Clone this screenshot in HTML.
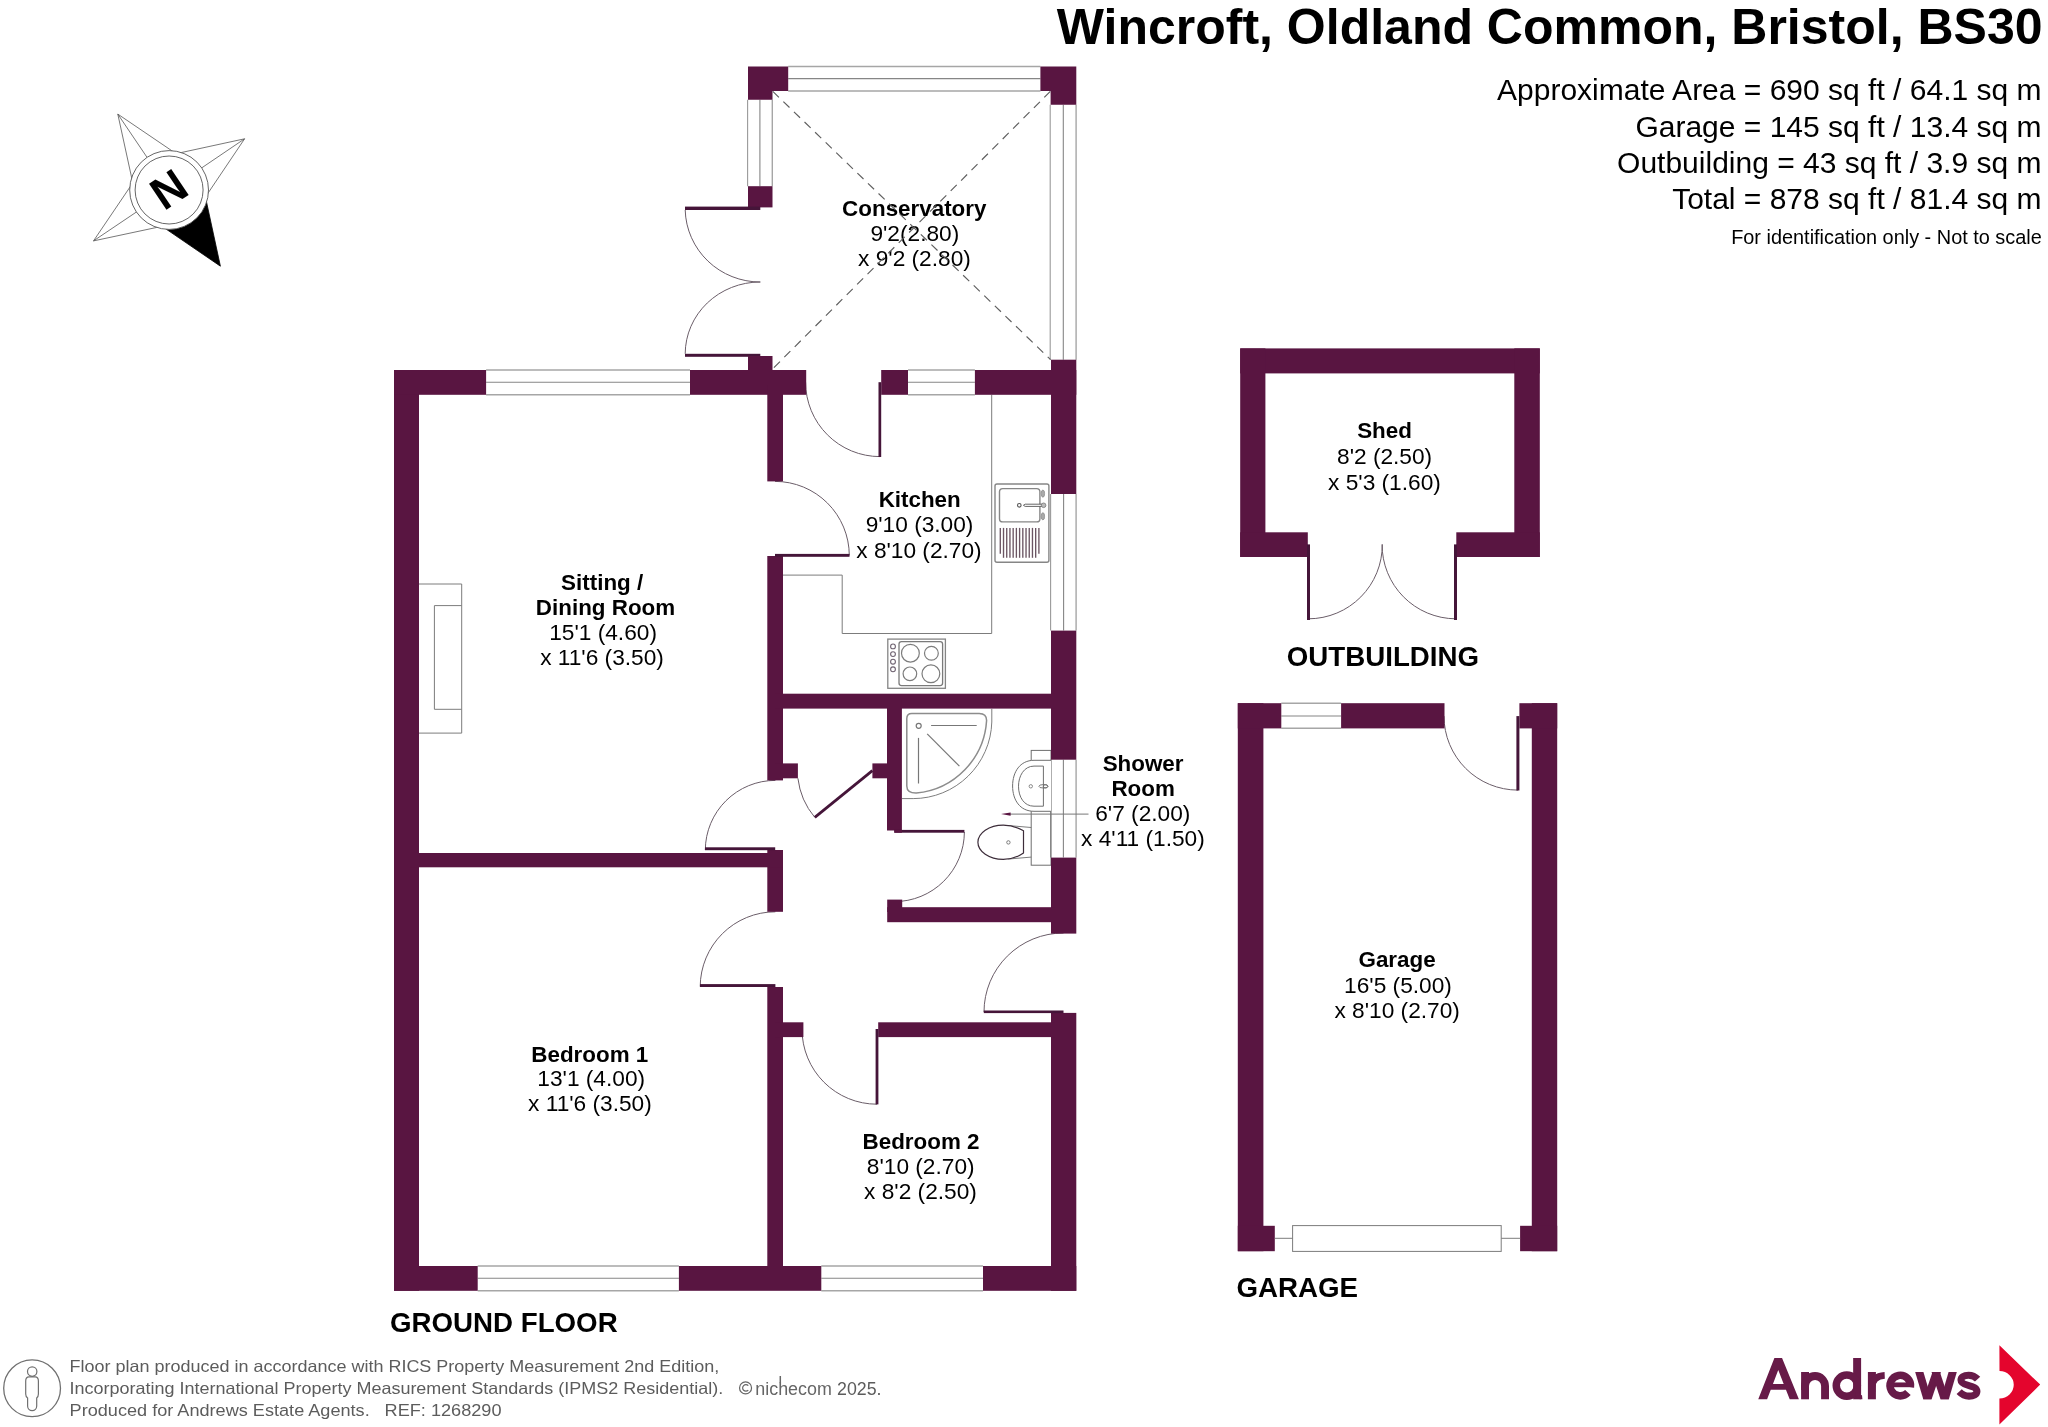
<!DOCTYPE html>
<html><head><meta charset="utf-8"><title>Floor plan</title>
<style>
html,body{margin:0;padding:0;background:#fff;}
body{width:2048px;height:1427px;overflow:hidden;position:relative;font-family:"Liberation Sans",sans-serif;}
svg{display:block;font-family:"Liberation Sans",sans-serif;}
</style></head><body>
<div style="position:absolute;left:0;top:0;width:2048px;height:1427px;will-change:transform;transform:translateZ(0);">
<svg width="2048" height="1427" viewBox="0 0 2048 1427">
<line x1="788.20" y1="66.60" x2="1040.40" y2="66.60" stroke="#a6a6a6" stroke-width="1.5" />
<line x1="788.20" y1="91.00" x2="1040.40" y2="91.00" stroke="#a6a6a6" stroke-width="1.5" />
<line x1="788.20" y1="78.60" x2="1040.40" y2="78.60" stroke="#868686" stroke-width="1.1" />
<line x1="747.60" y1="99.80" x2="747.60" y2="186.20" stroke="#9a9a9a" stroke-width="1.1" />
<line x1="772.30" y1="99.80" x2="772.30" y2="186.20" stroke="#a6a6a6" stroke-width="1.4" />
<line x1="759.90" y1="99.80" x2="759.90" y2="186.20" stroke="#868686" stroke-width="1.1" />
<line x1="1050.20" y1="104.80" x2="1050.20" y2="359.70" stroke="#9a9a9a" stroke-width="1.1" />
<line x1="1076.10" y1="104.80" x2="1076.10" y2="359.70" stroke="#a6a6a6" stroke-width="1.4" />
<line x1="1063.30" y1="104.80" x2="1063.30" y2="359.70" stroke="#868686" stroke-width="1.1" />
<line x1="486.10" y1="370.10" x2="690.00" y2="370.10" stroke="#a6a6a6" stroke-width="1.5" />
<line x1="486.10" y1="394.70" x2="690.00" y2="394.70" stroke="#a6a6a6" stroke-width="1.5" />
<line x1="486.10" y1="382.30" x2="690.00" y2="382.30" stroke="#868686" stroke-width="1.1" />
<line x1="908.00" y1="370.10" x2="974.90" y2="370.10" stroke="#a6a6a6" stroke-width="1.5" />
<line x1="908.00" y1="394.70" x2="974.90" y2="394.70" stroke="#a6a6a6" stroke-width="1.5" />
<line x1="908.00" y1="382.30" x2="974.90" y2="382.30" stroke="#868686" stroke-width="1.1" />
<line x1="1050.60" y1="494.00" x2="1050.60" y2="630.60" stroke="#9a9a9a" stroke-width="1.1" />
<line x1="1076.10" y1="494.00" x2="1076.10" y2="630.60" stroke="#a6a6a6" stroke-width="1.4" />
<line x1="1063.60" y1="494.00" x2="1063.60" y2="630.60" stroke="#868686" stroke-width="1.1" />
<line x1="1050.60" y1="759.70" x2="1050.60" y2="857.60" stroke="#9a9a9a" stroke-width="1.1" />
<line x1="1076.10" y1="759.70" x2="1076.10" y2="857.60" stroke="#a6a6a6" stroke-width="1.4" />
<line x1="1063.40" y1="759.70" x2="1063.40" y2="857.60" stroke="#868686" stroke-width="1.1" />
<line x1="477.70" y1="1266.10" x2="678.90" y2="1266.10" stroke="#a6a6a6" stroke-width="1.5" />
<line x1="477.70" y1="1290.70" x2="678.90" y2="1290.70" stroke="#a6a6a6" stroke-width="1.5" />
<line x1="477.70" y1="1278.30" x2="678.90" y2="1278.30" stroke="#868686" stroke-width="1.1" />
<line x1="821.30" y1="1266.10" x2="983.00" y2="1266.10" stroke="#a6a6a6" stroke-width="1.5" />
<line x1="821.30" y1="1290.70" x2="983.00" y2="1290.70" stroke="#a6a6a6" stroke-width="1.5" />
<line x1="821.30" y1="1278.30" x2="983.00" y2="1278.30" stroke="#868686" stroke-width="1.1" />
<line x1="1281.30" y1="703.30" x2="1341.10" y2="703.30" stroke="#a6a6a6" stroke-width="1.5" />
<line x1="1281.30" y1="728.30" x2="1341.10" y2="728.30" stroke="#a6a6a6" stroke-width="1.5" />
<line x1="1281.30" y1="716.00" x2="1341.10" y2="716.00" stroke="#868686" stroke-width="1.1" />
<path d="M991.7 394.8 V633.5 H842.2 V575.1 H782.5" stroke="#7c7c7c" stroke-width="1" fill="none" />
<rect x="995.0" y="484.0" width="53.9" height="78.2" rx="2" fill="none" stroke="#868686" stroke-width="1.4"/>
<rect x="999.5" y="488.6" width="40.4" height="33.3" rx="3.2" fill="none" stroke="#868686" stroke-width="1.4"/>
<circle cx="1019.3" cy="505.3" r="1.8" fill="#fff" stroke="#555" stroke-width="1.1"/>
<path d="M1023.4 505.3 L1025.2 504.2 H1042.2 V506.4 H1025.2 Z" fill="#fff" stroke="#555" stroke-width="0.9"/>
<circle cx="1043.6" cy="505.3" r="2.3" fill="#bbb" stroke="#777" stroke-width="0.8"/>
<ellipse cx="1042.9" cy="493.6" rx="1.7" ry="3.6" fill="#aaa" stroke="#888" stroke-width="0.7"/>
<ellipse cx="1042.9" cy="516.3" rx="1.7" ry="3.6" fill="#aaa" stroke="#888" stroke-width="0.7"/>
<line x1="1000.30" y1="527.90" x2="1000.30" y2="553.80" stroke="#6b5563" stroke-width="1.35" />
<line x1="1003.52" y1="527.90" x2="1003.52" y2="557.80" stroke="#6b5563" stroke-width="1.35" />
<line x1="1006.73" y1="527.90" x2="1006.73" y2="557.80" stroke="#6b5563" stroke-width="1.35" />
<line x1="1009.95" y1="527.90" x2="1009.95" y2="557.80" stroke="#6b5563" stroke-width="1.35" />
<line x1="1013.17" y1="527.90" x2="1013.17" y2="557.80" stroke="#6b5563" stroke-width="1.35" />
<line x1="1016.38" y1="527.90" x2="1016.38" y2="557.80" stroke="#6b5563" stroke-width="1.35" />
<line x1="1019.60" y1="527.90" x2="1019.60" y2="557.80" stroke="#6b5563" stroke-width="1.35" />
<line x1="1022.82" y1="527.90" x2="1022.82" y2="557.80" stroke="#6b5563" stroke-width="1.35" />
<line x1="1026.03" y1="527.90" x2="1026.03" y2="557.80" stroke="#6b5563" stroke-width="1.35" />
<line x1="1029.25" y1="527.90" x2="1029.25" y2="557.80" stroke="#6b5563" stroke-width="1.35" />
<line x1="1032.47" y1="527.90" x2="1032.47" y2="557.80" stroke="#6b5563" stroke-width="1.35" />
<line x1="1035.68" y1="527.90" x2="1035.68" y2="557.80" stroke="#6b5563" stroke-width="1.35" />
<line x1="1038.90" y1="527.90" x2="1038.90" y2="553.80" stroke="#6b5563" stroke-width="1.35" />
<rect x="887.8" y="639.1" width="57.6" height="49.2" fill="none" stroke="#858585" stroke-width="1.3"/>
<rect x="899" y="641.6" width="43.6" height="44" rx="2.5" fill="none" stroke="#7a7a7a" stroke-width="1.3"/>
<circle cx="893" cy="646.4" r="2.4" fill="none" stroke="#6e6270" stroke-width="1.1"/>
<circle cx="893" cy="654.1" r="2.4" fill="none" stroke="#6e6270" stroke-width="1.1"/>
<circle cx="893" cy="661.7" r="2.4" fill="none" stroke="#6e6270" stroke-width="1.1"/>
<circle cx="893" cy="669.3" r="2.4" fill="none" stroke="#6e6270" stroke-width="1.1"/>
<circle cx="910.4" cy="653.2" r="8.9" fill="none" stroke="#7c7c7c" stroke-width="1.2"/>
<circle cx="931.4" cy="653.2" r="6.9" fill="none" stroke="#7c7c7c" stroke-width="1.2"/>
<circle cx="909.9" cy="673.8" r="6.8" fill="none" stroke="#7c7c7c" stroke-width="1.2"/>
<circle cx="930.9" cy="673.8" r="8.9" fill="none" stroke="#7c7c7c" stroke-width="1.2"/>
<path d="M419 584 H461.7 V733.1 H419" stroke="#7c7c7c" stroke-width="1" fill="none" />
<path d="M461.7 605.6 H434.4 V709.3 H461.7" stroke="#7c7c7c" stroke-width="1" fill="none" />
<path d="M991.8 708.9 V722 A78.8 78.8 0 0 1 913.2 798.6 H902" stroke="#7d7d7d" stroke-width="1" fill="none" />
<path d="M911.8 713.5 H979.2 Q986.6 713.5 986.6 720.5 A77.8 77.8 0 0 1 916.3 793.1 Q906.8 793.3 906.8 786 V718.5 Q906.8 713.5 911.8 713.5 Z" stroke="#8c8c8c" stroke-width="1.5" fill="none" />
<circle cx="918.7" cy="725.8" r="2.5" fill="none" stroke="#777" stroke-width="1.2"/>
<line x1="931.10" y1="725.50" x2="976.70" y2="725.50" stroke="#777" stroke-width="1.2" />
<line x1="918.50" y1="737.90" x2="918.50" y2="783.50" stroke="#777" stroke-width="1.2" />
<line x1="927.20" y1="733.80" x2="959.40" y2="766.20" stroke="#777" stroke-width="1.2" />
<rect x="1031.2" y="750.4" width="19.8" height="114.8" fill="none" stroke="#6e6e6e" stroke-width="1"/>
<path d="M1051 760.3 H1034 C1020 760.3 1012.6 772 1012.6 786 C1012.6 800 1020 811.3 1034 811.3 H1051" stroke="#6e6e6e" stroke-width="1" fill="#fff" />
<path d="M1043.4 766.1 H1034 C1024 766.1 1018.5 776 1018.5 786.2 C1018.5 797 1024 806.2 1034 806.2 H1043.4 Z" stroke="#6e6e6e" stroke-width="1" fill="none" />
<circle cx="1030.8" cy="786.3" r="1.7" fill="none" stroke="#6e6e6e" stroke-width="0.8"/>
<ellipse cx="1043.5" cy="786.3" rx="4.6" ry="1.7" fill="none" stroke="#6e6e6e" stroke-width="0.9"/>
<ellipse cx="1045.5" cy="786.3" rx="2.2" ry="1.7" fill="none" stroke="#6e6e6e" stroke-width="0.9"/>
<path d="M1007.7 825.5 L1031.2 827.5 M1007.7 859.1 L1031.2 857.1" stroke="#6e6e6e" stroke-width="0.9" fill="none" />
<path d="M1003.3 825.2 C1011 825.2 1018 827.6 1023.5 830.8 V853.0 C1018 856.8 1011 859.4 1003.3 859.4 C989 859.4 977.9 851.5 977.9 842.3 C977.9 833 989 825.2 1003.3 825.2 Z" stroke="#3d2d3a" stroke-width="1.2" fill="#fff" />
<circle cx="1008.4" cy="842.4" r="1.7" fill="none" stroke="#6e6e6e" stroke-width="0.9"/>
<line x1="1008.00" y1="814.10" x2="1088.50" y2="814.10" stroke="#777" stroke-width="1" />
<polygon points="1001.00,814.10 1010.60,812.50 1010.60,815.70" fill="#591541"/>
<path d="M685.2 210 A75 74 0 0 0 760.3 282" stroke="#6a5d68" stroke-width="1" fill="none" />
<path d="M685.2 353.8 A75 72 0 0 1 760.3 282" stroke="#6a5d68" stroke-width="1" fill="none" />
<path d="M805.6 382.2 A74.4 74.4 0 0 0 880 456.6" stroke="#6a5d68" stroke-width="1" fill="none" />
<path d="M775 481.4 A74.3 74.3 0 0 1 849.3 555.4" stroke="#6a5d68" stroke-width="1" fill="none" />
<path d="M797.9 778.3 A74.5 74.5 0 0 0 814.8 817.4" stroke="#6a5d68" stroke-width="1" fill="none" />
<path d="M964.4 832 A70 70 0 0 1 894.3 901.6" stroke="#6a5d68" stroke-width="1" fill="none" />
<path d="M775.4 780.4 A70 70 0 0 0 705.3 850" stroke="#6a5d68" stroke-width="1" fill="none" />
<path d="M775.4 911.8 A75.2 75.2 0 0 0 700.2 986.6" stroke="#6a5d68" stroke-width="1" fill="none" />
<path d="M802 1029.2 A75 75 0 0 0 877 1104.2" stroke="#6a5d68" stroke-width="1" fill="none" />
<path d="M1063.5 933 A79.5 79 0 0 0 984 1012" stroke="#6a5d68" stroke-width="1" fill="none" />
<path d="M1308.5 618.8 A74 74 0 0 0 1382.3 544.4" stroke="#6a5d68" stroke-width="1" fill="none" />
<path d="M1455.5 618.8 A74 74 0 0 1 1382.1 544.4" stroke="#6a5d68" stroke-width="1" fill="none" />
<path d="M1444 716.1 A74 74 0 0 0 1518 790.1" stroke="#6a5d68" stroke-width="1" fill="none" />
<polygon points="748.00,66.50 788.20,66.50 788.20,91.10 772.50,91.10 772.50,99.80 748.00,99.80" fill="#591541"/>
<polygon points="1040.40,66.50 1076.30,66.50 1076.30,104.80 1050.60,104.80 1050.60,91.10 1040.40,91.10" fill="#591541"/>
<rect x="748.00" y="186.20" width="24.50" height="21.20" fill="#591541"/>
<rect x="685.00" y="206.60" width="75.30" height="3.40" fill="#451539"/>
<rect x="685.00" y="353.80" width="75.30" height="3.00" fill="#451539"/>
<rect x="748.00" y="356.00" width="24.50" height="15.00" fill="#591541"/>
<rect x="394.00" y="370.00" width="25.00" height="920.80" fill="#591541"/>
<rect x="394.00" y="370.00" width="92.10" height="24.80" fill="#591541"/>
<rect x="690.00" y="370.00" width="116.20" height="24.80" fill="#591541"/>
<rect x="881.20" y="370.00" width="26.80" height="24.80" fill="#591541"/>
<rect x="878.50" y="382.20" width="2.70" height="74.80" fill="#451539"/>
<rect x="974.90" y="370.00" width="101.40" height="24.80" fill="#591541"/>
<rect x="1051.00" y="359.70" width="25.30" height="134.30" fill="#591541"/>
<rect x="1051.00" y="630.60" width="25.30" height="129.10" fill="#591541"/>
<rect x="1051.00" y="857.60" width="25.30" height="76.00" fill="#591541"/>
<rect x="1051.00" y="1012.90" width="25.30" height="277.90" fill="#591541"/>
<rect x="394.00" y="1266.00" width="83.70" height="24.80" fill="#591541"/>
<rect x="678.90" y="1266.00" width="142.40" height="24.80" fill="#591541"/>
<rect x="983.00" y="1266.00" width="93.30" height="24.80" fill="#591541"/>
<rect x="767.30" y="385.00" width="15.70" height="96.40" fill="#591541"/>
<rect x="767.30" y="556.00" width="15.70" height="224.40" fill="#591541"/>
<rect x="775.00" y="553.90" width="74.50" height="2.90" fill="#451539"/>
<rect x="767.30" y="850.00" width="15.70" height="61.80" fill="#591541"/>
<rect x="767.30" y="987.00" width="15.70" height="283.00" fill="#591541"/>
<rect x="410.00" y="853.00" width="373.00" height="14.30" fill="#591541"/>
<rect x="775.00" y="693.70" width="280.00" height="14.90" fill="#591541"/>
<rect x="775.00" y="763.40" width="22.90" height="14.90" fill="#591541"/>
<rect x="872.40" y="763.40" width="15.10" height="14.90" fill="#591541"/>
<rect x="887.00" y="700.00" width="14.90" height="130.50" fill="#591541"/>
<rect x="894.30" y="829.90" width="70.10" height="2.80" fill="#451539"/>
<rect x="894.30" y="829.90" width="7.60" height="2.80" fill="#591541"/>
<rect x="887.20" y="907.20" width="167.80" height="15.00" fill="#591541"/>
<rect x="887.20" y="899.60" width="15.00" height="12.40" fill="#591541"/>
<rect x="775.00" y="1022.30" width="28.40" height="14.80" fill="#591541"/>
<rect x="878.20" y="1022.30" width="176.80" height="14.80" fill="#591541"/>
<rect x="705.00" y="847.30" width="70.20" height="2.90" fill="#451539"/>
<rect x="700.00" y="984.10" width="75.40" height="2.90" fill="#451539"/>
<rect x="875.60" y="1029.00" width="2.80" height="75.40" fill="#451539"/>
<rect x="983.80" y="1010.50" width="79.70" height="2.60" fill="#451539"/>
<line x1="872.40" y1="770.60" x2="814.80" y2="817.40" stroke="#451539" stroke-width="2.8" />
<rect x="1240.20" y="348.40" width="299.60" height="25.00" fill="#591541"/>
<rect x="1240.20" y="348.40" width="25.20" height="208.60" fill="#591541"/>
<rect x="1514.30" y="348.40" width="25.50" height="208.60" fill="#591541"/>
<rect x="1240.20" y="532.30" width="67.60" height="24.70" fill="#591541"/>
<rect x="1456.30" y="532.30" width="83.50" height="24.70" fill="#591541"/>
<rect x="1307.00" y="544.40" width="3.00" height="75.60" fill="#451539"/>
<rect x="1454.00" y="544.40" width="3.00" height="75.60" fill="#451539"/>
<rect x="1237.80" y="703.20" width="25.60" height="548.00" fill="#591541"/>
<rect x="1531.80" y="703.20" width="25.40" height="548.00" fill="#591541"/>
<rect x="1237.80" y="703.20" width="43.50" height="25.20" fill="#591541"/>
<rect x="1341.10" y="703.20" width="103.40" height="25.20" fill="#591541"/>
<rect x="1519.40" y="703.20" width="37.80" height="25.20" fill="#591541"/>
<rect x="1516.40" y="716.10" width="3.00" height="74.40" fill="#451539"/>
<rect x="1237.80" y="1225.80" width="37.00" height="25.40" fill="#591541"/>
<rect x="1520.10" y="1225.80" width="37.10" height="25.40" fill="#591541"/>
<rect x="1292.6" y="1225.6" width="208.6" height="25.8" fill="#fff" stroke="#7c7c7c" stroke-width="1"/>
<line x1="1274.80" y1="1238.30" x2="1292.60" y2="1238.30" stroke="#7c7c7c" stroke-width="1" />
<line x1="1501.20" y1="1238.30" x2="1520.10" y2="1238.30" stroke="#7c7c7c" stroke-width="1" />
<polygon points="117.80,114.10 176.13,153.67 169.10,190.00 132.79,182.91" fill="none" stroke="#555" stroke-width="0.8" stroke-linejoin="miter"/>
<line x1="117.80" y1="114.10" x2="169.10" y2="190.00" stroke="#555" stroke-width="0.8" />
<polygon points="244.60,138.80 205.44,196.97 169.10,190.00 176.13,153.67" fill="none" stroke="#555" stroke-width="0.8" stroke-linejoin="miter"/>
<line x1="244.60" y1="138.80" x2="169.10" y2="190.00" stroke="#555" stroke-width="0.8" />
<polygon points="220.40,266.20 162.01,226.31 169.10,190.00 205.44,196.97" fill="#000" stroke="#000" stroke-width="0.8" stroke-linejoin="miter"/>
<polygon points="93.50,240.90 132.79,182.91 169.10,190.00 162.01,226.31" fill="none" stroke="#555" stroke-width="0.8" stroke-linejoin="miter"/>
<line x1="93.50" y1="240.90" x2="169.10" y2="190.00" stroke="#555" stroke-width="0.8" />
<circle cx="169.1" cy="190.0" r="39.4" fill="#fff" stroke="#555" stroke-width="0.9"/>
<circle cx="169.1" cy="190.0" r="34" fill="#fff" stroke="#555" stroke-width="0.9"/>
<text x="0" y="0" font-size="45.5" font-weight="bold" text-anchor="middle" transform="translate(169.1,190.0) rotate(146.1) translate(0,16.3)">N</text>
<text x="2042.50" y="44.40" font-size="50" font-weight="bold" text-anchor="end" fill="#000" >Wincroft, Oldland Common, Bristol, BS30</text>
<text x="2041.50" y="100.20" font-size="30" font-weight="normal" text-anchor="end" fill="#000" >Approximate Area = 690 sq ft / 64.1 sq m</text>
<text x="2041.50" y="136.70" font-size="30" font-weight="normal" text-anchor="end" fill="#000" >Garage = 145 sq ft / 13.4 sq m</text>
<text x="2041.50" y="172.90" font-size="30" font-weight="normal" text-anchor="end" fill="#000" >Outbuilding = 43 sq ft / 3.9 sq m</text>
<text x="2041.50" y="209.00" font-size="30" font-weight="normal" text-anchor="end" fill="#000" >Total = 878 sq ft / 81.4 sq m</text>
<text x="2041.80" y="244.10" font-size="19.9" font-weight="normal" text-anchor="end" fill="#000" >For identification only - Not to scale</text>
<text x="914.30" y="216.40" font-size="22.4" font-weight="bold" text-anchor="middle" fill="#000" >Conservatory</text>
<text x="914.85" y="241.05" font-size="22.7" font-weight="normal" text-anchor="middle" fill="#000" >9'2(2.80)</text>
<text x="914.45" y="265.95" font-size="22.7" font-weight="normal" text-anchor="middle" fill="#000" >x 9'2 (2.80)</text>
<text x="919.70" y="507.20" font-size="22.4" font-weight="bold" text-anchor="middle" fill="#000" >Kitchen</text>
<text x="919.55" y="532.20" font-size="22.7" font-weight="normal" text-anchor="middle" fill="#000" >9'10 (3.00)</text>
<text x="918.95" y="557.50" font-size="22.7" font-weight="normal" text-anchor="middle" fill="#000" >x 8'10 (2.70)</text>
<text x="602.15" y="590.00" font-size="22.4" font-weight="bold" text-anchor="middle" fill="#000" >Sitting /</text>
<text x="605.50" y="615.40" font-size="22.4" font-weight="bold" text-anchor="middle" fill="#000" >Dining Room</text>
<text x="603.10" y="640.40" font-size="22.7" font-weight="normal" text-anchor="middle" fill="#000" >15'1 (4.60)</text>
<text x="602.00" y="665.00" font-size="22.7" font-weight="normal" text-anchor="middle" fill="#000" >x 11'6 (3.50)</text>
<text x="589.75" y="1061.60" font-size="22.4" font-weight="bold" text-anchor="middle" fill="#000" >Bedroom 1</text>
<text x="591.20" y="1086.30" font-size="22.7" font-weight="normal" text-anchor="middle" fill="#000" >13'1 (4.00)</text>
<text x="589.95" y="1111.20" font-size="22.7" font-weight="normal" text-anchor="middle" fill="#000" >x 11'6 (3.50)</text>
<text x="921.05" y="1149.40" font-size="22.4" font-weight="bold" text-anchor="middle" fill="#000" >Bedroom 2</text>
<text x="920.70" y="1174.00" font-size="22.7" font-weight="normal" text-anchor="middle" fill="#000" >8'10 (2.70)</text>
<text x="920.50" y="1198.90" font-size="22.7" font-weight="normal" text-anchor="middle" fill="#000" >x 8'2 (2.50)</text>
<text x="1143.10" y="770.80" font-size="22.4" font-weight="bold" text-anchor="middle" fill="#000" >Shower</text>
<text x="1143.10" y="796.20" font-size="22.4" font-weight="bold" text-anchor="middle" fill="#000" >Room</text>
<text x="1142.80" y="821.20" font-size="22.7" font-weight="normal" text-anchor="middle" fill="#000" >6'7 (2.00)</text>
<text x="1142.90" y="846.15" font-size="22.7" font-weight="normal" text-anchor="middle" fill="#000" >x 4'11 (1.50)</text>
<text x="1384.55" y="438.40" font-size="22.4" font-weight="bold" text-anchor="middle" fill="#000" >Shed</text>
<text x="1384.60" y="464.00" font-size="22.7" font-weight="normal" text-anchor="middle" fill="#000" >8'2 (2.50)</text>
<text x="1384.45" y="489.50" font-size="22.7" font-weight="normal" text-anchor="middle" fill="#000" >x 5'3 (1.60)</text>
<text x="1397.10" y="967.40" font-size="22.4" font-weight="bold" text-anchor="middle" fill="#000" >Garage</text>
<text x="1398.00" y="993.20" font-size="22.7" font-weight="normal" text-anchor="middle" fill="#000" >16'5 (5.00)</text>
<text x="1397.15" y="1018.00" font-size="22.7" font-weight="normal" text-anchor="middle" fill="#000" >x 8'10 (2.70)</text>
<line x1="772.80" y1="91.40" x2="1050.60" y2="359.70" stroke="#5e5e5e" stroke-width="1.15" stroke-dasharray="8.5 6.2"/>
<line x1="1050.30" y1="91.40" x2="772.50" y2="369.00" stroke="#5e5e5e" stroke-width="1.15" stroke-dasharray="8.5 6.2"/>
<text x="390.00" y="1331.90" font-size="27.7" font-weight="bold" text-anchor="start" fill="#000" >GROUND FLOOR</text>
<text x="1286.80" y="666.25" font-size="27.7" font-weight="bold" text-anchor="start" fill="#000" >OUTBUILDING</text>
<text x="1236.50" y="1296.90" font-size="27.7" font-weight="bold" text-anchor="start" fill="#000" >GARAGE</text>
<text transform="translate(69.6,1372.3) scale(1.0651,1)" font-size="16.9" fill="#5c5c5c" xml:space="preserve">Floor plan produced in accordance with RICS Property Measurement 2nd Edition,</text>
<text transform="translate(69.6,1394.0) scale(1.0651,1)" font-size="16.9" fill="#5c5c5c" xml:space="preserve">Incorporating International Property Measurement Standards (IPMS2 Residential).</text>
<text transform="translate(69.6,1416.0) scale(1.0723,1)" font-size="16.9" fill="#5c5c5c" xml:space="preserve">Produced for Andrews Estate Agents.</text>
<text transform="translate(384.6,1416.0) scale(1.0736,1)" font-size="16.9" fill="#5c5c5c" xml:space="preserve">REF: 1268290</text>
<circle cx="745.55" cy="1387.9" r="6.0" fill="none" stroke="#666" stroke-width="1.2"/>
<path d="M748.3 1385.6 A3.3 3.3 0 1 0 748.3 1390.2" fill="none" stroke="#666" stroke-width="1.2"/>
<text x="755.3" y="1394.5" font-size="18.9" fill="#666" textLength="76.5" lengthAdjust="spacingAndGlyphs">nichecom</text>
<line x1="780.3" y1="1376" x2="780.3" y2="1382.5" stroke="#666" stroke-width="1.5"/>
<text x="837.0" y="1394.5" font-size="18.4" fill="#5c5c5c" textLength="44.5" lengthAdjust="spacingAndGlyphs">2025.</text>
<circle cx="32.1" cy="1388.3" r="28.4" fill="none" stroke="#707070" stroke-width="1.3"/>
<circle cx="32.2" cy="1371.6" r="4.7" fill="none" stroke="#707070" stroke-width="1.2"/>
<path d="M29 1376.9 H35.2 Q38.4 1376.9 38.4 1381 V1394 Q38.4 1396.6 36.7 1398 V1406 A4.55 4.55 0 0 1 27.6 1406 V1398 Q25.7 1396.6 25.7 1394 V1381 Q25.7 1376.9 29 1376.9 Z" stroke="#707070" stroke-width="1.2" fill="none" />
<g fill="#671a48" stroke="none">
<path fill-rule="evenodd" d="M1758.25 1399.3 L1774.4 1358.0 H1782.05 L1798.9 1399.3 H1789.7 L1785.95 1389.75 H1770.75 L1767.1 1399.3 Z M1778.25 1370.1 L1783.7 1384 H1772.94 Z"/>
<rect x="1801.1" y="1372.0" width="7.9" height="27.299999999999955"/>
<rect x="1853.15" y="1358.0" width="7.95" height="41.299999999999955"/>
<rect x="1867.9" y="1372.0" width="8.0" height="27.299999999999955"/>
<rect x="1890" y="1382.45" width="23.6" height="4.75"/>
</g>
<g fill="none" stroke="#671a48">
<path d="M1805.05 1390 V1386 A10 10 0 0 1 1825.05 1386 V1399.3" stroke-width="7.9"/>
<circle cx="1846.8" cy="1385.6" r="10.55" stroke-width="7.5"/>
<path d="M1857.1 1392 C1857.1 1396 1858.5 1397.6 1862.2 1397.2" stroke-width="4.2"/>
<path d="M1871.9 1392 V1388 C1871.9 1380 1876.5 1375.6 1884.7 1375.3" stroke-width="6.8"/>
<path d="M1910.42 1387.20 A10.25 10.25 0 1 0 1907.92 1392.46" stroke-width="7.5"/>
<path d="M1977.6 1379.2 C1974.5 1375.8 1971.5 1375.2 1968.6 1375.2 C1963.6 1375.2 1961.0 1377.4 1961.0 1380 C1961.0 1383.4 1965 1384.6 1969 1385.6 C1973.5 1386.8 1976.9 1388 1976.9 1391.3 C1976.9 1394.6 1973.6 1396.1 1969 1396.1 C1965 1396.1 1962 1394.6 1959.2 1391.6" stroke-width="7.1"/>
</g>
<clipPath id="wclip"><rect x="1910" y="1372.0" width="52" height="27.299999999999955"/></clipPath>
<g clip-path="url(#wclip)" stroke="#671a48" stroke-width="7.9" fill="none">
<line x1="1917.59" y1="1366.25" x2="1929.11" y2="1405.05"/>
<line x1="1925.46" y1="1404.98" x2="1938.14" y2="1367.82"/>
<line x1="1934.32" y1="1367.80" x2="1946.58" y2="1405.00"/>
<line x1="1943.01" y1="1405.06" x2="1954.39" y2="1366.24"/>
</g>
<path d="M1999.4 1345.3 L2040.2 1384.6 L1999.4 1424.6 V1398.5 A14.3 13.7 0 0 0 1999.5 1371.1 Z" stroke="none" stroke-width="0" fill="#e4052d" />
</svg>
</div>
</body></html>
